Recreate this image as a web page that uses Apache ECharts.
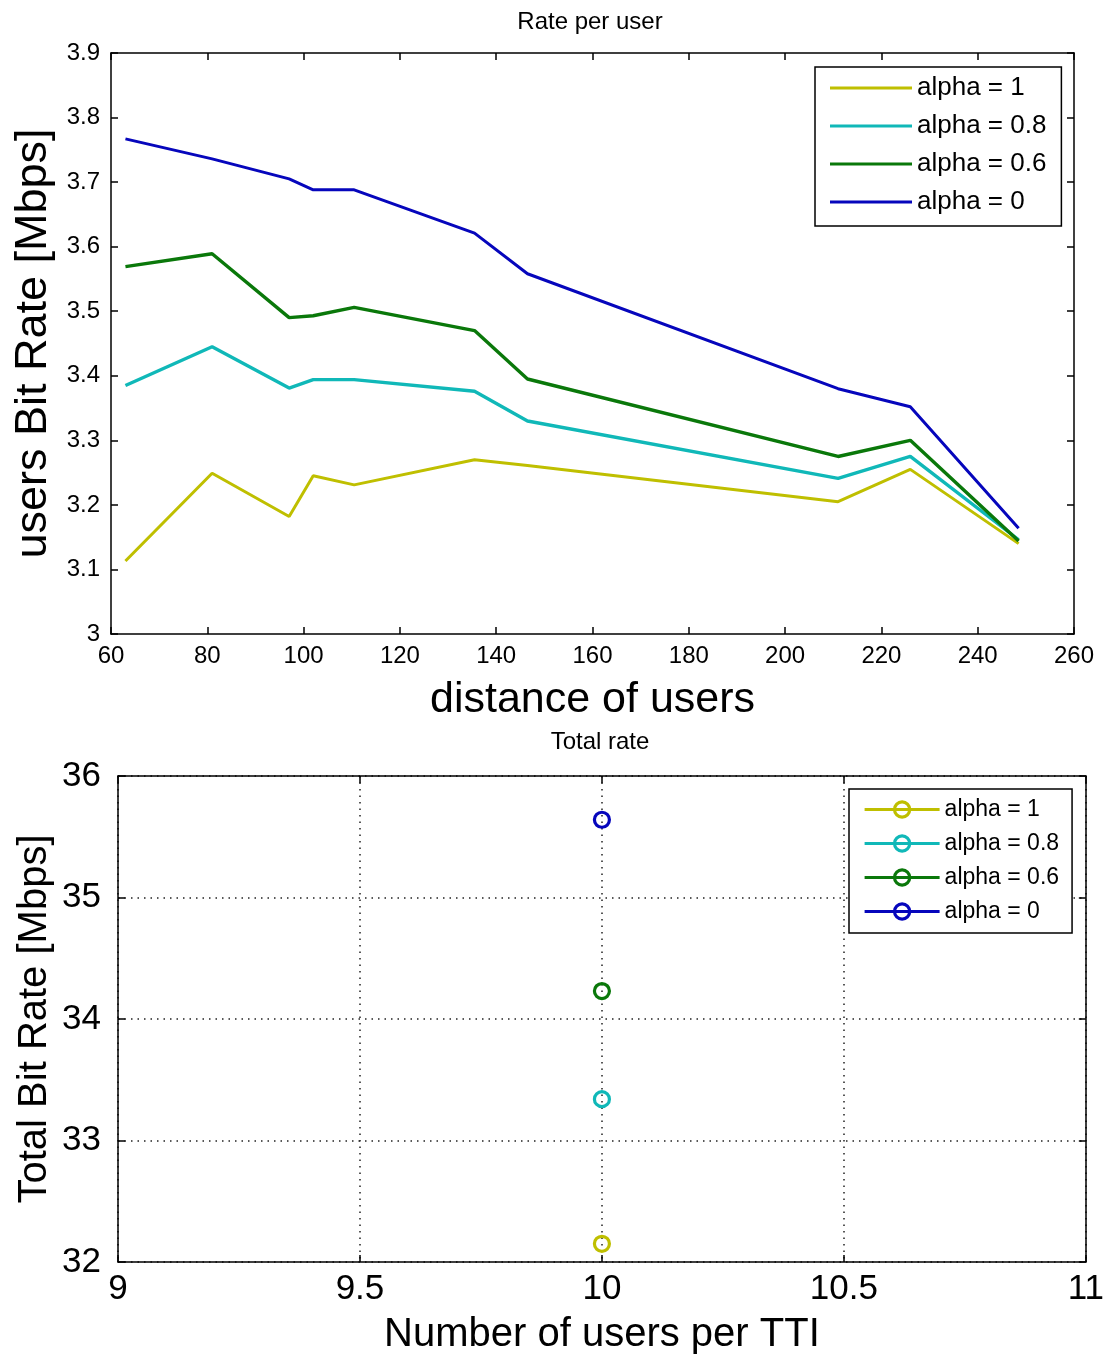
<!DOCTYPE html>
<html>
<head>
<meta charset="utf-8">
<script src="https://cdn.jsdelivr.net/npm/echarts@6/dist/echarts.min.js"></script>
<style>
  html, body { margin: 0; padding: 0; background: #fff; }
  #chart { width: 1107px; height: 1358px; }
</style>
</head>
<body>
<div id="chart"></div>
<script>
// ---- Rate per user vs. distance ----
const distance   = [63, 81, 97, 102, 110.5, 135.5, 146.5, 211, 226, 248.5];
const rateAlpha1  = [3.113, 3.249, 3.182, 3.245, 3.231, 3.270, 3.261, 3.205, 3.255, 3.140];
const rateAlpha08 = [3.385, 3.445, 3.381, 3.394, 3.394, 3.376, 3.330, 3.241, 3.275, 3.146];
const rateAlpha06 = [3.569, 3.589, 3.490, 3.493, 3.506, 3.470, 3.395, 3.275, 3.300, 3.144];
const rateAlpha0  = [3.767, 3.736, 3.705, 3.688, 3.688, 3.621, 3.558, 3.380, 3.352, 3.164];

// ---- Total rate vs. users per TTI ----
const usersPerTTI = 10;
const totalRate = [32.15, 33.34, 34.23, 35.64]; // alpha = 1, 0.8, 0.6, 0

const alphaLabels = ['alpha = 1', 'alpha = 0.8', 'alpha = 0.6', 'alpha = 0'];
const colors = ['#bfbf00', '#10b8b8', '#0a780a', '#0606bc'];
const lineWidths = [3, 3.4, 3.4, 3];
const rateSets = [rateAlpha1, rateAlpha08, rateAlpha06, rateAlpha0];
const TOTAL_PREFIX = 'Total: ';

const FONT = '"Liberation Sans", Arial, Helvetica, sans-serif';
const black = '#000';

function pairs(xs, ys) { return xs.map((x, i) => [x, ys[i]]); }
function trimNum(v) { return String(Math.round(v * 100) / 100); }

const frameAxis = (extra) => Object.assign({
  type: 'value',
  axisLine: { show: true, onZero: false, lineStyle: { color: black, width: 1.5 } },
  axisTick: { show: true, inside: true, length: 7, lineStyle: { color: black, width: 1.5 } },
  axisLabel: { show: false },
  splitLine: { show: false }
}, extra);

const chart = echarts.init(document.getElementById('chart'), null, { renderer: 'canvas' });

const option = {
  backgroundColor: '#fff',
  animation: false,
  textStyle: { fontFamily: FONT },
  title: [
    { text: 'Rate per user', left: 590, top: 10, textAlign: 'center', padding: 0,
      textStyle: { fontFamily: FONT, fontSize: 24, lineHeight: 24, fontWeight: 'normal', color: black } },
    { text: 'Total rate', left: 600, top: 730, textAlign: 'center', padding: 0,
      textStyle: { fontFamily: FONT, fontSize: 24, lineHeight: 24, fontWeight: 'normal', color: black } }
  ],
  grid: [
    { left: 111, top: 53, width: 963, height: 581, containLabel: false },
    { left: 118, top: 776, width: 968, height: 486, containLabel: false }
  ],
  legend: [
    {
      data: alphaLabels,
      orient: 'vertical',
      left: 815, top: 67,
      padding: [8, 15, 11, 15],
      itemGap: 12,
      itemWidth: 82, itemHeight: 3,
      icon: 'rect',
      backgroundColor: '#fff',
      borderColor: black, borderWidth: 1.5, borderRadius: 0,
      selectedMode: false,
      textStyle: { fontFamily: FONT, fontSize: 26, lineHeight: 26, color: black }
    },
    {
      data: alphaLabels.map(n => TOTAL_PREFIX + n),
      formatter: n => n.replace(TOTAL_PREFIX, ''),
      orient: 'vertical',
      left: 849, top: 789,
      padding: [9, 13, 10, 14],
      itemGap: 11,
      itemWidth: 75, itemHeight: 19,
      backgroundColor: '#fff',
      borderColor: black, borderWidth: 1.5, borderRadius: 0,
      selectedMode: false,
      lineStyle: { width: 3.2 },
      itemStyle: { borderWidth: 3.2 },
      textStyle: { fontFamily: FONT, fontSize: 23, lineHeight: 23, color: black }
    }
  ],
  xAxis: [
    frameAxis({
      gridIndex: 0, position: 'bottom', min: 60, max: 260, interval: 20,
      axisLabel: { show: true, color: black, fontFamily: FONT, fontSize: 24, margin: 10 },
      name: 'distance of users', nameLocation: 'middle', nameGap: 45,
      nameTextStyle: { fontFamily: FONT, fontSize: 43, lineHeight: 43, color: black }
    }),
    frameAxis({ gridIndex: 0, position: 'top', min: 60, max: 260, interval: 20 }),
    frameAxis({
      gridIndex: 1, position: 'bottom', min: 9, max: 11, interval: 0.5,
      axisLabel: { show: true, color: black, fontFamily: FONT, fontSize: 35, margin: 10, formatter: trimNum },
      splitLine: { show: true, lineStyle: { color: '#222', width: 1.5, type: [1.5, 5] } },
      name: 'Number of users per TTI', nameLocation: 'middle', nameGap: 53,
      nameTextStyle: { fontFamily: FONT, fontSize: 40, lineHeight: 40, color: black }
    }),
    frameAxis({ gridIndex: 1, position: 'top', min: 9, max: 11, interval: 0.5 })
  ],
  yAxis: [
    frameAxis({
      gridIndex: 0, position: 'left', min: 3, max: 3.9, interval: 0.1,
      axisLabel: { show: true, color: black, fontFamily: FONT, fontSize: 24, margin: 11, formatter: trimNum },
      name: 'users Bit Rate [Mbps]', nameLocation: 'middle', nameGap: 55,
      nameMoveOverlap: false,
      nameTextStyle: { fontFamily: FONT, fontSize: 45, lineHeight: 45, color: black }
    }),
    frameAxis({ gridIndex: 0, position: 'right', min: 3, max: 3.9, interval: 0.1 }),
    frameAxis({
      gridIndex: 1, position: 'left', min: 32, max: 36, interval: 1,
      axisLabel: { show: true, color: black, fontFamily: FONT, fontSize: 35, margin: 17 },
      splitLine: { show: true, lineStyle: { color: '#222', width: 1.5, type: [1.5, 5] } },
      name: 'Total Bit Rate [Mbps]', nameLocation: 'middle', nameGap: 63,
      nameMoveOverlap: false,
      nameTextStyle: { fontFamily: FONT, fontSize: 40, lineHeight: 40, color: black }
    }),
    frameAxis({ gridIndex: 1, position: 'right', min: 32, max: 36, interval: 1 })
  ],
  series: [
    // per-user rate curves
    ...alphaLabels.map((name, i) => ({
      name,
      type: 'line',
      xAxisIndex: 0, yAxisIndex: 0,
      data: pairs(distance, rateSets[i]),
      symbol: 'none',
      color: colors[i],
      lineStyle: { color: colors[i], width: lineWidths[i] },
      z: 2 + i
    })),
    // total rate, one open-circle marker per alpha
    ...alphaLabels.map((name, i) => ({
      name: TOTAL_PREFIX + name,
      type: 'line',
      xAxisIndex: 2, yAxisIndex: 2,
      data: [[usersPerTTI, totalRate[i]]],
      symbol: 'circle',
      symbolSize: 15,
      color: colors[i],
      itemStyle: { color: 'rgba(255,255,255,0)', borderColor: colors[i], borderWidth: 3.2 },
      lineStyle: { color: colors[i], width: 3 },
      z: 3
    }))
  ]
};

chart.setOption(option);
</script>
</body>
</html>
